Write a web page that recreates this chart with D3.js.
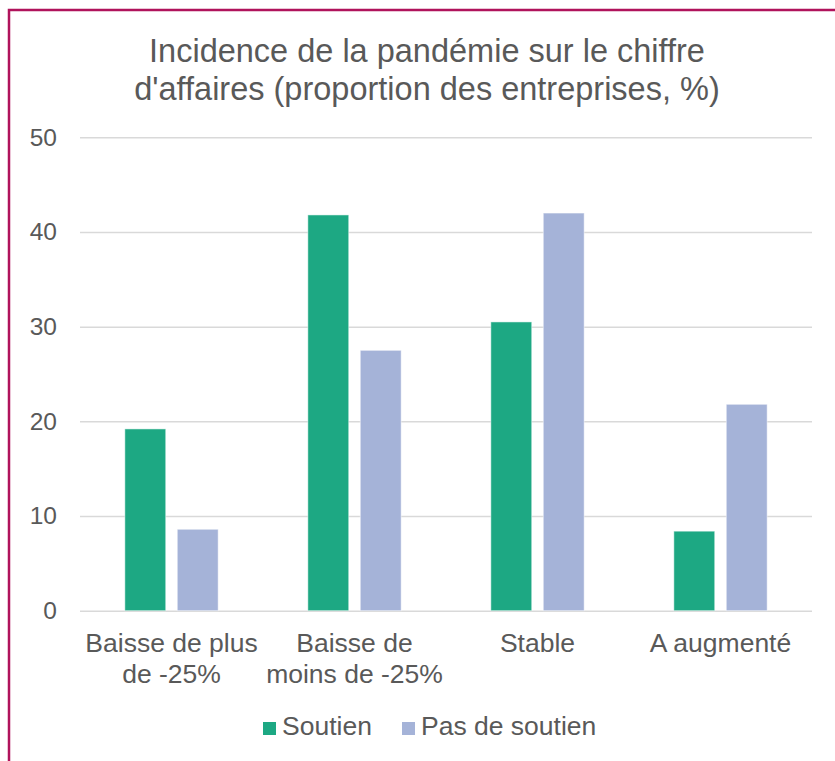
<!DOCTYPE html>
<html>
<head>
<meta charset="utf-8">
<script src="https://cdn.jsdelivr.net/npm/d3@7"></script>
<style>
  body { margin: 0; background: #fff; }
  svg { display: block; font-family: "Liberation Sans", Arial, sans-serif; }
</style>
</head>
<body>
<div id="chart"></div>
<script>
// data
const categories = ['Baisse de plus\nde -25%', 'Baisse de\nmoins de -25%', 'Stable', 'A augmenté'];
const seriesNames = ['Soutien', 'Pas de soutien'];
const soutien = [19.2, 41.8, 30.5, 8.4];
const pasDeSoutien = [8.6, 27.5, 42.0, 21.8];
const yTicks = [0, 10, 20, 30, 40, 50];
const titleLines = ['Incidence de la pandémie sur le chiffre', "d'affaires (proportion des entreprises, %)"];

const colors = ['#1DA883', '#A5B3D8'];
const textColor = '#595959';

var width = 835;
var height = 761;
var plot = { left: 80, right: 812, top: 137.3, bottom: 610.7 };

var rows = categories.map((c, i) => ({ cat: c, values: [soutien[i], pasDeSoutien[i]] }));

var svg = d3.select('#chart')
    .append('svg')
    .attr('width', width)
    .attr('height', height);

// outer frame (bottom and right run off the picture)
svg.append('rect')
    .attr('x', 9)
    .attr('y', 10)
    .attr('width', 900)
    .attr('height', 900)
    .attr('fill', 'none')
    .attr('stroke', '#B0135B')
    .attr('stroke-width', 2.5);

// title
svg.append('text')
    .attr('text-anchor', 'middle')
    .attr('fill', textColor)
    .style('font-size', '32.5px')
    .selectAll('tspan')
    .data(titleLines)
    .enter()
    .append('tspan')
    .attr('x', 427)
    .attr('y', (d, i) => 62 + i * 38)
    .text(d => d);

var y = d3.scaleLinear().domain([0, 50]).range([plot.bottom, plot.top]);

var x0 = d3.scaleBand()
    .domain(categories)
    .range([plot.left, plot.right])
    .paddingInner(0.49)
    .paddingOuter(0.245);

var x1 = d3.scaleBand()
    .domain(seriesNames)
    .range([0, x0.bandwidth()])
    .paddingInner(0.22);

// y axis + gridlines
var yAxis = svg.append('g')
    .attr('transform', 'translate(' + plot.left + ',0)')
    .call(d3.axisLeft(y).tickValues(yTicks).tickSize(-(plot.right - plot.left)).tickPadding(23));
yAxis.select('.domain').remove();
yAxis.selectAll('line').attr('stroke', '#D9D9D9').attr('stroke-width', 1.5);
yAxis.selectAll('text')
    .attr('fill', textColor)
    .style('font-size', '24.5px')
    .attr('font-family', null);

// bars
var groups = svg.append('g')
    .selectAll('g')
    .data(rows)
    .enter()
    .append('g')
    .attr('transform', d => 'translate(' + x0(d.cat) + ',0)');

groups.selectAll('rect')
    .data(d => d.values.map((v, i) => ({ key: seriesNames[i], value: v, idx: i })))
    .enter()
    .append('rect')
    .attr('x', d => x1(d.key))
    .attr('y', d => y(d.value))
    .attr('width', x1.bandwidth())
    .attr('height', d => y(0) - y(d.value))
    .attr('fill', d => colors[d.idx])
    .attr('stroke', '#fff')
    .attr('stroke-opacity', 0.5)
    .attr('stroke-width', 1);

// category labels (x axis)
var xAxis = svg.append('g')
    .attr('transform', 'translate(0,' + plot.bottom + ')')
    .call(d3.axisBottom(x0).tickSize(0).tickFormat(''));
xAxis.select('.domain').remove();
xAxis.selectAll('.tick')
    .append('text')
    .attr('text-anchor', 'middle')
    .attr('fill', textColor)
    .style('font-size', '26.5px')
    .selectAll('tspan')
    .data(d => d.split('\n'))
    .enter()
    .append('tspan')
    .attr('x', 0)
    .attr('y', (d, i) => 41 + i * 31)
    .text(d => d);

// legend
var legendItems = [
    { name: seriesNames[0], color: colors[0], x: 263 },
    { name: seriesNames[1], color: colors[1], x: 402 }
];
var legend = svg.append('g')
    .selectAll('g')
    .data(legendItems)
    .enter()
    .append('g')
    .attr('transform', d => 'translate(' + d.x + ',722)');
legend.append('rect')
    .attr('width', 13)
    .attr('height', 13)
    .attr('fill', d => d.color);
legend.append('text')
    .attr('x', 19)
    .attr('y', 13)
    .attr('fill', textColor)
    .style('font-size', '26.5px')
    .text(d => d.name);
</script>
</body>
</html>
